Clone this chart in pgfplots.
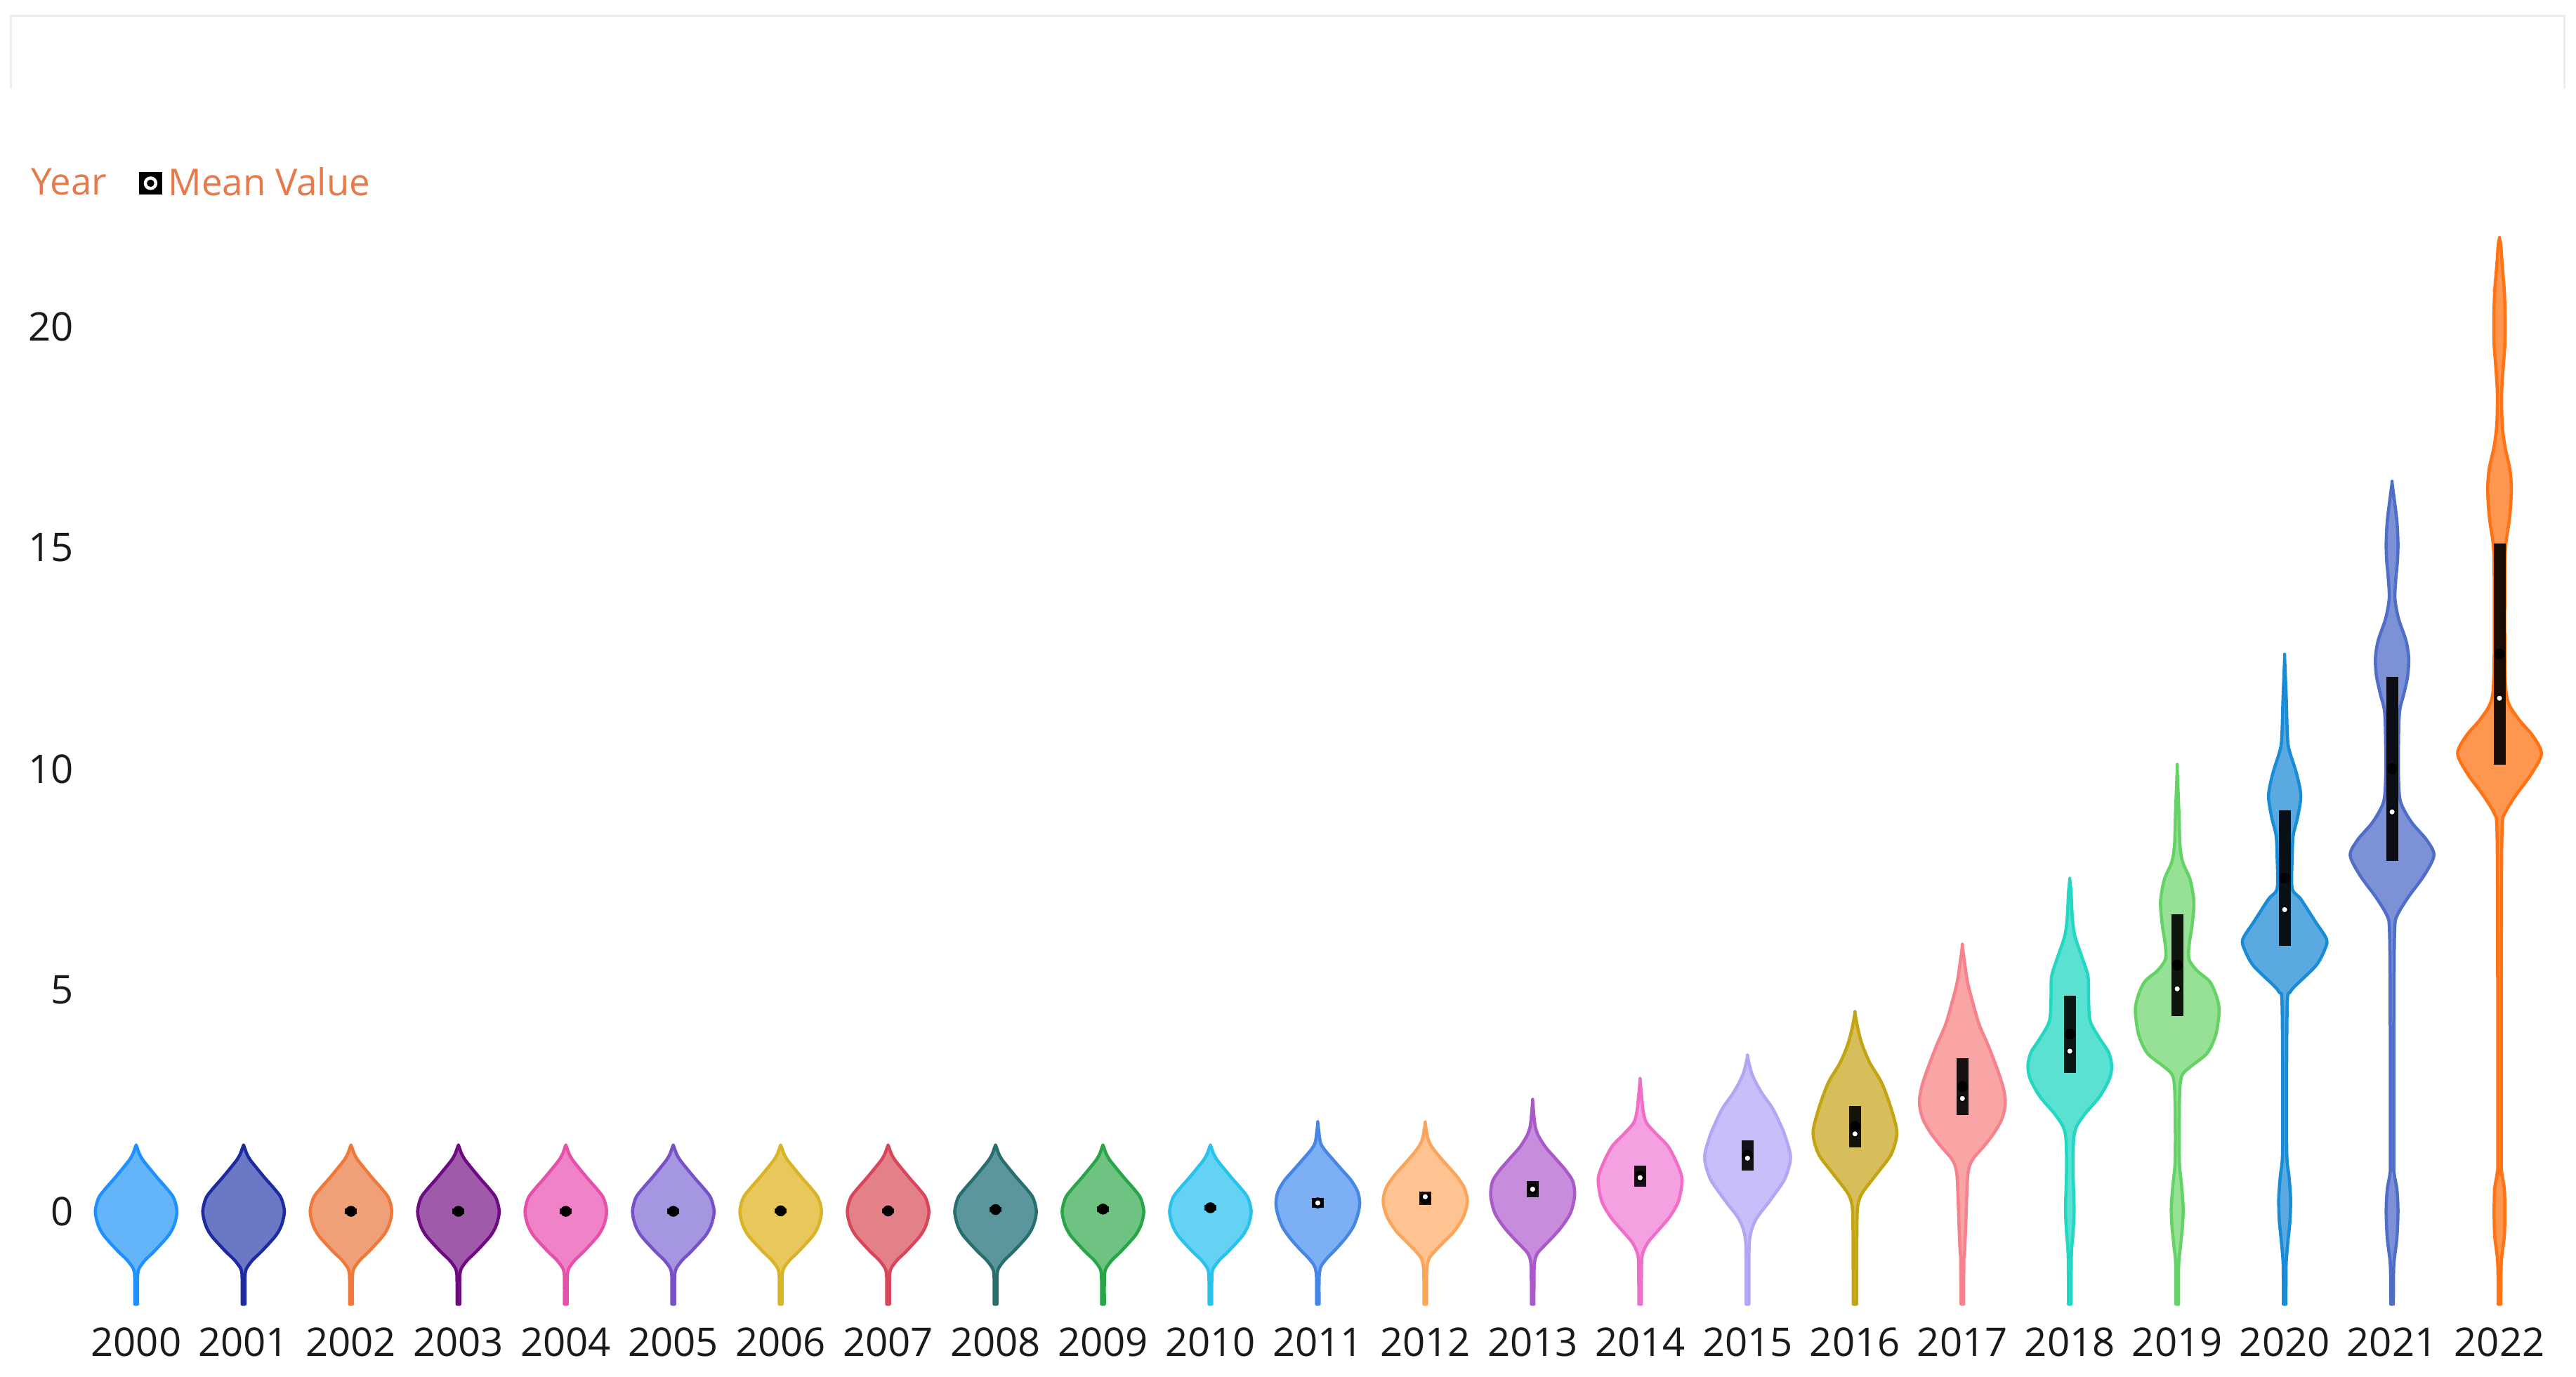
\documentclass[border=0pt]{standalone}
\usepackage{fontspec}
\setmainfont{Open Sans}
\usepackage{pgfplots}
\usepackage{pgfplotstable}
\pgfplotsset{compat=1.18}

\definecolor{legorange}{HTML}{E8794A}
\definecolor{tickc}{HTML}{1A1A1A}
% fill / line colours per year
\definecolor{f00}{HTML}{64B4FA}\definecolor{d00}{HTML}{1E90FF}
\definecolor{f01}{HTML}{6B78C6}\definecolor{d01}{HTML}{1E2AA0}
\definecolor{f02}{HTML}{F0A078}\definecolor{d02}{HTML}{F07838}
\definecolor{f03}{HTML}{A05AAA}\definecolor{d03}{HTML}{6E0A82}
\definecolor{f04}{HTML}{F082C8}\definecolor{d04}{HTML}{E650AA}
\definecolor{f05}{HTML}{A596E1}\definecolor{d05}{HTML}{7850C8}
\definecolor{f06}{HTML}{E8C85A}\definecolor{d06}{HTML}{D7B428}
\definecolor{f07}{HTML}{E48088}\definecolor{d07}{HTML}{D7465A}
\definecolor{f08}{HTML}{5A969B}\definecolor{d08}{HTML}{286E6E}
\definecolor{f09}{HTML}{6EC382}\definecolor{d09}{HTML}{28A546}
\definecolor{f10}{HTML}{64D2F5}\definecolor{d10}{HTML}{28C3EB}
\definecolor{f11}{HTML}{7DAFF5}\definecolor{d11}{HTML}{4687E6}
\definecolor{f12}{HTML}{FFC391}\definecolor{d12}{HTML}{FAA55A}
\definecolor{f13}{HTML}{C88CDC}\definecolor{d13}{HTML}{AA5AC8}
\definecolor{f14}{HTML}{F5A0E1}\definecolor{d14}{HTML}{F06EC8}
\definecolor{f15}{HTML}{C8BEFA}\definecolor{d15}{HTML}{B4A5F5}
\definecolor{f16}{HTML}{D7BE5A}\definecolor{d16}{HTML}{C3A514}
\definecolor{f17}{HTML}{FAA5A5}\definecolor{d17}{HTML}{F5828C}
\definecolor{f18}{HTML}{5AE1D2}\definecolor{d18}{HTML}{23D7C3}
\definecolor{f19}{HTML}{96E196}\definecolor{d19}{HTML}{64D264}
\definecolor{f20}{HTML}{5AAAE1}\definecolor{d20}{HTML}{198CD7}
\definecolor{f21}{HTML}{7D91D7}\definecolor{d21}{HTML}{506EC8}
\definecolor{f22}{HTML}{FF9650}\definecolor{d22}{HTML}{FF7314}

% turn a half profile (y, w) into a closed outline: column s = +w going up, -w coming down
\newcommand{\closeprof}[1]{%
  \pgfplotstablesort[sort key=y, sort cmp={float >}]{\revtmp}{#1}%
  \pgfplotstablecreatecol[create col/expr={\thisrow{w}}]{s}{#1}%
  \pgfplotstablecreatecol[create col/expr={-\thisrow{w}}]{s}{\revtmp}%
  \pgfplotstablevertcat{#1}{\revtmp}%
}

% violin half-width profiles: y, w (w in category units)
\pgfplotstableread{
y w
-2.10 0.013
-1.60 0.013
-1.40 0.016
-1.28 0.03
-1.10 0.085
-0.90 0.17
-0.55 0.30
-0.30 0.355
0.00 0.38
0.30 0.35
0.50 0.29
0.75 0.20
1.00 0.115
1.17 0.06
1.30 0.03
1.42 0.012
1.50 0.0
}\tE
\pgfplotstableread{
y w
-2.10 0.012
-1.55 0.012
-1.35 0.018
-1.22 0.035
-1.05 0.09
-0.85 0.17
-0.60 0.26
-0.35 0.33
-0.05 0.375
0.20 0.39
0.45 0.37
0.70 0.31
0.95 0.22
1.20 0.13
1.40 0.06
1.55 0.025
1.75 0.012
2.00 0.0
}\tK
\pgfplotstableread{
y w
-2.10 0.012
-1.45 0.013
-1.20 0.02
-1.05 0.04
-0.90 0.09
-0.70 0.17
-0.45 0.27
-0.15 0.35
0.10 0.385
0.30 0.39
0.55 0.36
0.80 0.29
1.05 0.20
1.30 0.11
1.50 0.05
1.65 0.025
1.80 0.012
2.00 0.0
}\tL
\pgfplotstableread{
y w
-2.10 0.012
-1.40 0.013
-1.12 0.02
-0.95 0.045
-0.80 0.10
-0.60 0.18
-0.35 0.27
-0.05 0.35
0.25 0.385
0.46 0.39
0.70 0.37
0.95 0.30
1.20 0.21
1.45 0.12
1.70 0.055
1.90 0.025
2.15 0.012
2.50 0.0
}\tM
\pgfplotstableread{
y w
-2.10 0.012
-1.30 0.013
-1.00 0.02
-0.80 0.05
-0.65 0.09
-0.40 0.18
-0.11 0.28
0.25 0.36
0.73 0.39
1.10 0.34
1.47 0.26
1.75 0.15
2.00 0.06
2.25 0.03
2.60 0.014
2.97 0.0
}\tN
\pgfplotstableread{
y w
-2.10 0.013
-0.90 0.014
-0.55 0.025
-0.30 0.055
-0.10 0.10
0.15 0.18
0.38 0.25
0.75 0.35
1.22 0.40
1.70 0.35
2.05 0.29
2.34 0.23
2.65 0.14
2.90 0.08
3.15 0.035
3.50 0.0
}\tO
\pgfplotstableread{
y w
-2.10 0.016
-0.50 0.018
0.10 0.025
0.38 0.06
0.65 0.14
0.93 0.23
1.30 0.34
1.77 0.39
2.30 0.34
2.90 0.25
3.35 0.14
3.75 0.07
4.10 0.03
4.48 0.0
}\tP
\pgfplotstableread{
y w
-2.10 0.012
-1.10 0.014
-0.95 0.02
-0.40 0.03
0.30 0.04
0.80 0.05
1.05 0.07
1.22 0.11
1.50 0.21
1.79 0.30
2.10 0.37
2.45 0.40
2.80 0.38
3.18 0.33
3.75 0.24
4.20 0.16
4.60 0.11
5.16 0.05
5.60 0.022
6.00 0.0
}\tQ
\pgfplotstableread{
y w
-2.10 0.012
-1.00 0.015
-0.50 0.03
0.00 0.04
0.50 0.035
1.00 0.03
1.60 0.035
1.90 0.06
2.20 0.14
2.60 0.28
3.00 0.37
3.30 0.39
3.60 0.36
3.90 0.28
4.30 0.19
4.80 0.175
5.30 0.17
5.70 0.12
6.20 0.05
6.60 0.025
7.20 0.012
7.50 0.0
}\tR
\pgfplotstableread{
y w
-2.10 0.012
-1.20 0.014
-0.80 0.03
-0.30 0.05
0.10 0.055
0.60 0.04
1.10 0.02
2.00 0.018
2.80 0.025
3.10 0.05
3.30 0.14
3.58 0.28
4.00 0.36
4.55 0.39
4.90 0.36
5.20 0.30
5.45 0.18
5.70 0.11
6.00 0.11
6.50 0.14
7.00 0.155
7.50 0.12
7.90 0.05
8.30 0.025
9.00 0.016
10.00 0.0
}\tS
\pgfplotstableread{
y w
-2.10 0.012
-1.20 0.014
-0.70 0.03
-0.20 0.05
0.30 0.055
0.80 0.04
1.30 0.02
3.00 0.018
4.75 0.025
4.95 0.05
5.10 0.10
5.55 0.29
5.90 0.37
6.15 0.39
6.57 0.28
7.06 0.15
7.30 0.07
8.00 0.07
8.50 0.08
8.90 0.12
9.40 0.15
9.90 0.11
10.45 0.04
10.80 0.025
11.60 0.015
12.50 0.0
}\tT
\pgfplotstableread{
y w
-2.10 0.012
-1.40 0.014
-1.10 0.02
-0.60 0.045
0.00 0.055
0.50 0.045
0.85 0.02
1.30 0.016
5.00 0.018
6.40 0.025
6.70 0.05
7.10 0.15
7.60 0.30
8.05 0.39
8.40 0.32
8.80 0.18
9.25 0.08
9.80 0.06
10.60 0.06
11.30 0.07
11.70 0.11
12.10 0.145
12.50 0.155
12.90 0.13
13.40 0.06
13.85 0.027
14.30 0.035
14.70 0.05
15.10 0.055
15.60 0.045
16.10 0.02
16.47 0.0
}\tU
\pgfplotstableread{
y w
-2.10 0.012
-1.40 0.014
-1.05 0.02
-0.55 0.045
0.00 0.05
0.50 0.045
0.90 0.02
1.30 0.016
7.00 0.018
8.70 0.025
9.00 0.05
9.40 0.15
9.90 0.30
10.35 0.39
10.75 0.31
11.15 0.17
11.60 0.07
12.50 0.05
14.50 0.05
15.10 0.06
15.60 0.09
16.00 0.105
16.40 0.11
16.80 0.095
17.30 0.05
17.80 0.025
18.50 0.02
19.10 0.035
19.60 0.05
20.20 0.052
20.80 0.045
21.40 0.025
21.85 0.012
22.00 0.0
}\tV
\closeprof{\tE}\closeprof{\tK}\closeprof{\tL}\closeprof{\tM}\closeprof{\tN}
\closeprof{\tO}\closeprof{\tP}\closeprof{\tQ}\closeprof{\tR}\closeprof{\tS}
\closeprof{\tT}\closeprof{\tU}\closeprof{\tV}

% box (lo, hi) per year index
\pgfplotstableread{
k lo hi
2 -0.06 0.06
3 -0.06 0.06
4 -0.06 0.06
5 -0.06 0.06
6 -0.05 0.07
7 -0.05 0.07
8 -0.02 0.10
9 -0.01 0.11
10 0.02 0.14
11 0.08 0.30
12 0.14 0.45
13 0.32 0.68
14 0.55 1.04
15 0.92 1.60
16 1.45 2.38
17 2.18 3.46
18 3.13 4.88
19 4.41 6.72
20 6.00 9.07
21 7.93 12.08
22 10.10 15.10
}\boxes
% mean values
\pgfplotstableread{
k m
11 0.19
12 0.33
13 0.50
14 0.76
15 1.20
16 1.75
17 2.55
18 3.62
19 5.03
20 6.82
21 9.03
22 11.60
}\means

\newcommand{\violin}[4]{%
  \addplot[forget plot, fill=#3, draw=#4, line width=0.45mm, line join=round, smooth, tension=0.5]
    table[x expr=#1+\thisrow{s}, y=y] {#2} -- cycle;
}

\begin{document}
\begin{tikzpicture}
\begin{axis}[
  width=366.8mm, height=196mm, scale only axis,
  xmin=-1.265, xmax=22.71, ymin=-3.73, ymax=27.38,
  axis line style={draw=none},
  major tick length=0pt,
  xtick={0,...,22},
  xticklabels={2000,2001,2002,2003,2004,2005,2006,2007,2008,2009,2010,2011,2012,2013,2014,2015,2016,2017,2018,2019,2020,2021,2022},
  ytick={0,5,10,15,20},
  /pgf/number format/assume math mode=true,
  tick label style={font=\fontsize{16}{19}\selectfont, text=tickc, inner sep=0pt},
  yticklabel style={anchor=east, xshift=10.5mm},
  xticklabel style={anchor=base, yshift=2.8mm},
  legend style={at={(axis description cs:0.0095,0.867)}, anchor=west, draw=none, fill=none,
    inner sep=0pt, font=\fontsize{15}{18}\selectfont, text=legorange,
    nodes={inner sep=0pt},
    /tikz/every odd column/.append style={column sep=0.9mm},
    /tikz/every even column/.append style={column sep=4.6mm}},
  legend columns=2,
  clip=false,
]
\violin{0}{\tE}{f00}{d00}
\violin{1}{\tE}{f01}{d01}
\violin{2}{\tE}{f02}{d02}
\violin{3}{\tE}{f03}{d03}
\violin{4}{\tE}{f04}{d04}
\violin{5}{\tE}{f05}{d05}
\violin{6}{\tE}{f06}{d06}
\violin{7}{\tE}{f07}{d07}
\violin{8}{\tE}{f08}{d08}
\violin{9}{\tE}{f09}{d09}
\violin{10}{\tE}{f10}{d10}
\violin{11}{\tK}{f11}{d11}
\violin{12}{\tL}{f12}{d12}
\violin{13}{\tM}{f13}{d13}
\violin{14}{\tN}{f14}{d14}
\violin{15}{\tO}{f15}{d15}
\violin{16}{\tP}{f16}{d16}
\violin{17}{\tQ}{f17}{d17}
\violin{18}{\tR}{f18}{d18}
\violin{19}{\tS}{f19}{d19}
\violin{20}{\tT}{f20}{d20}
\violin{21}{\tU}{f21}{d21}
\violin{22}{\tV}{f22}{d22}

% boxes
\addplot[forget plot, only marks, mark=none,
  error bars/.cd, y dir=both, y explicit, error mark=none,
  error bar style={line width=1.7mm, black, opacity=0.9}]
  table[x=k, y expr=(\thisrow{lo}+\thisrow{hi})/2, y error expr=(\thisrow{hi}-\thisrow{lo})/2] {\boxes};
% means
\addplot[forget plot, only marks, mark=*, mark size=0.45mm, mark options={fill=white, draw=none}]
  table[x=k, y=m] {\means};

\addlegendimage{empty legend}
\addlegendentry{Year}
\addlegendimage{legend image code/.code={
  \fill[black] (0mm,-1.55mm) rectangle (3.1mm,1.55mm);
  \fill[white] (1.55mm,0mm) circle (0.9mm);
  \fill[black] (1.55mm,0mm) circle (0.45mm);}}
\addlegendentry{Mean Value}

\draw[black!7, line width=0.3mm] (axis description cs:0.0041,0.936) -- (axis description cs:0.0041,0.9888)
  -- (axis description cs:0.9956,0.9888) -- (axis description cs:0.9956,0.936);
\end{axis}
\end{tikzpicture}
\end{document}
